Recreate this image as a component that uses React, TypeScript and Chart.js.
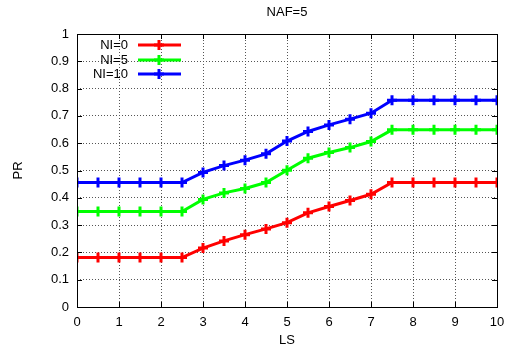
import React, { useEffect, useRef } from "react";
import { Chart, registerables } from "chart.js";

Chart.register(...registerables);

const title = "NAF=5";
const xLabel = "LS";
const yLabel = "PR";
const lsValues = [0, 0.5, 1, 1.5, 2, 2.5, 3, 3.5, 4, 4.5, 5, 5.5, 6, 6.5, 7, 7.5, 8, 8.5, 9, 9.5, 10];
const seriesNames = ["NI=0", "NI=5", "NI=10"];
const seriesColors = ["#ff0000", "#00ff00", "#0000ff"];
const ni0 = [0.181, 0.181, 0.181, 0.181, 0.181, 0.181, 0.216, 0.242, 0.265, 0.286, 0.309, 0.345, 0.368, 0.39, 0.413, 0.456, 0.456, 0.456, 0.456, 0.456, 0.456];
const ni5 = [0.35, 0.35, 0.35, 0.35, 0.35, 0.35, 0.394, 0.418, 0.434, 0.456, 0.501, 0.545, 0.566, 0.584, 0.606, 0.649, 0.649, 0.649, 0.649, 0.649, 0.649];
const ni10 = [0.456, 0.456, 0.456, 0.456, 0.456, 0.456, 0.493, 0.518, 0.538, 0.561, 0.608, 0.643, 0.667, 0.688, 0.71, 0.757, 0.757, 0.757, 0.757, 0.757, 0.757];
const seriesValues = [ni0, ni5, ni10];

const FONT = "'Liberation Sans', Arial, sans-serif";
const FS = 13;

const decorPlugin = {
  id: "decor",
  afterDraw(chart: any) {
    const ctx = chart.ctx;
    const a = chart.chartArea;
    const xs = chart.scales.x;
    const ys = chart.scales.y;
    ctx.save();
    ctx.strokeStyle = "#000";
    ctx.lineWidth = 1;
    ctx.strokeRect(Math.round(a.left) + 0.5, Math.round(a.top) + 0.5, Math.round(a.right - a.left), Math.round(a.bottom - a.top));
    const tl = 5;
    ctx.beginPath();
    for (let v = 0; v <= 10; v++) {
      const px = Math.round(xs.getPixelForValue(v)) + 0.5;
      ctx.moveTo(px, a.bottom); ctx.lineTo(px, a.bottom - tl);
      ctx.moveTo(px, a.top); ctx.lineTo(px, a.top + tl);
    }
    for (let i = 0; i <= 10; i++) {
      const py = Math.round(ys.getPixelForValue(i / 10)) + 0.5;
      ctx.moveTo(a.left, py); ctx.lineTo(a.left + tl, py);
      ctx.moveTo(a.right, py); ctx.lineTo(a.right - tl, py);
    }
    ctx.stroke();
    ctx.fillStyle = "#000";
    ctx.font = `${FS}px ${FONT}`;
    ctx.textAlign = "center";
    ctx.textBaseline = "middle";
    const cx = (a.left + a.right) / 2;
    ctx.fillText(title, cx, 12);
    ctx.fillText(xLabel, cx, 340);
    ctx.save();
    ctx.translate(18, (a.top + a.bottom) / 2);
    ctx.rotate(-Math.PI / 2);
    ctx.fillText(yLabel, 0, 0);
    ctx.restore();
    const rows = [45, 60, 74];
    seriesNames.forEach((name, i) => {
      const y = rows[i];
      ctx.fillStyle = "#000";
      ctx.textAlign = "right";
      ctx.fillText(name, 128, y);
      ctx.strokeStyle = seriesColors[i];
      ctx.lineWidth = 3;
      ctx.beginPath();
      ctx.moveTo(138, y); ctx.lineTo(181, y);
      ctx.stroke();
      ctx.beginPath();
      ctx.moveTo(159 - 5, y); ctx.lineTo(159 + 5, y);
      ctx.moveTo(159, y - 5); ctx.lineTo(159, y + 5);
      ctx.stroke();
    });
    ctx.restore();
  },
};

export default function App() {
  const ref = useRef<HTMLCanvasElement>(null);
  useEffect(() => {
    document.body.style.margin = "0";
    const chart = new Chart(ref.current!, {
      type: "line",
      data: {
        datasets: seriesValues.map((vals, i) => ({
          label: seriesNames[i],
          data: lsValues.map((x, j) => ({ x, y: vals[j] })),
          borderColor: seriesColors[i],
          backgroundColor: seriesColors[i],
          borderWidth: 3,
          pointStyle: "cross",
          pointRadius: 5,
          pointBorderWidth: 3,
          fill: false,
          tension: 0,
        })),
      },
      options: {
        animation: false,
        responsive: false,
        layout: { padding: { top: 34, right: 0, left: 0, bottom: 0 } },
        plugins: { legend: { display: false }, title: { display: false }, tooltip: { enabled: false } },
        scales: {
          x: {
            type: "linear",
            min: 0,
            max: 10,
            ticks: { stepSize: 1, color: "#000", font: { family: FONT, size: FS }, padding: 8 },
            grid: { color: "#555", drawTicks: false, tickLength: 0 },
            border: { display: false, dash: [1, 2] },
            afterFit: (s: any) => { s.height = 45; s.paddingRight = 10; },
          },
          y: {
            min: 0,
            max: 1,
            ticks: { stepSize: 0.1, color: "#000", font: { family: FONT, size: FS }, padding: 8, callback: (v: any) => String(Math.round(v * 10) / 10) },
            grid: { color: "#555", drawTicks: false, tickLength: 0 },
            border: { display: false, dash: [1, 2] },
            afterFit: (s: any) => { s.width = 77; },
          },
        },
      },
      plugins: [decorPlugin],
    });
    return () => chart.destroy();
  }, []);
  return (
    <div style={{ width: 507, height: 352 }}>
      <canvas ref={ref} width={507} height={352} />
    </div>
  );
}
